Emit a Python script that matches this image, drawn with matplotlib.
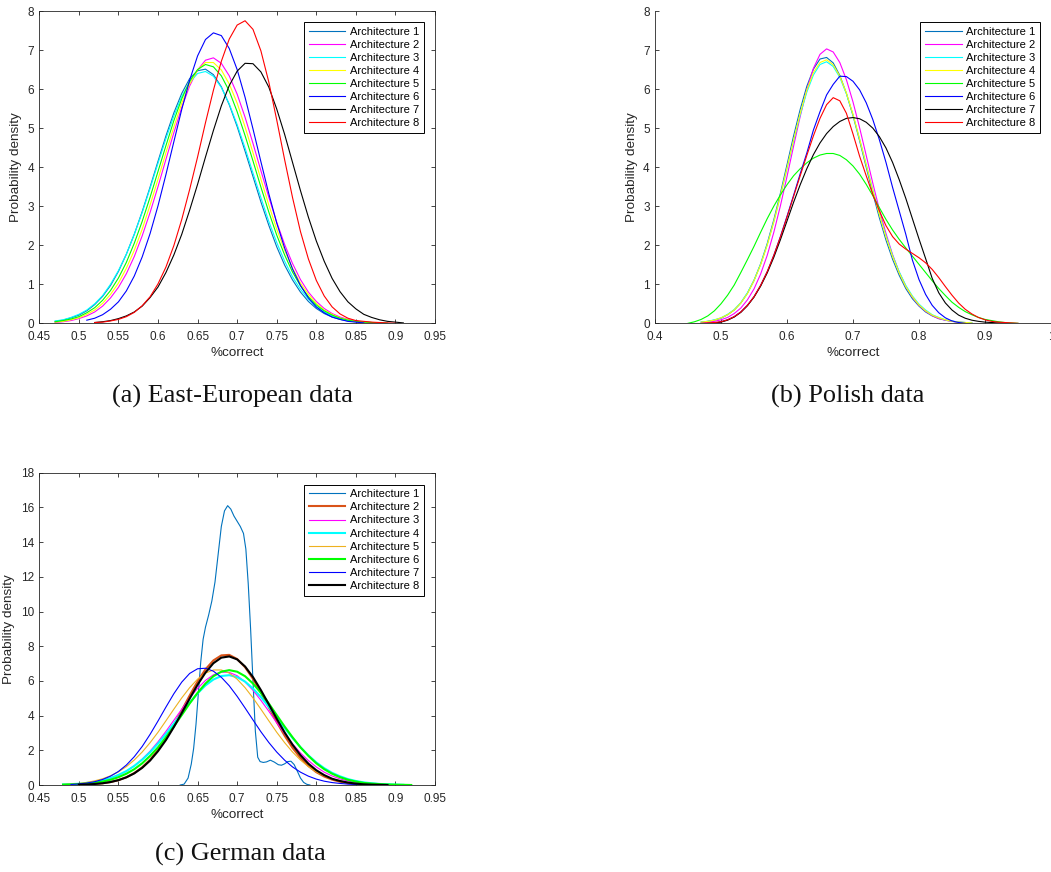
import matplotlib
matplotlib.use("Agg")
import matplotlib.pyplot as plt
from matplotlib.ticker import FuncFormatter, FixedLocator

plt.rcParams['font.family'] = ['Liberation Sans', 'DejaVu Sans']

NAMES = ["Architecture 1", "Architecture 2", "Architecture 3", "Architecture 4",
         "Architecture 5", "Architecture 6", "Architecture 7", "Architecture 8"]

# ---------------- Panel (a) East-European data ----------------
A_GRID = [0.47, 0.48, 0.49, 0.50, 0.51, 0.52, 0.53, 0.54, 0.55, 0.56, 0.57, 0.58,
          0.59, 0.60, 0.61, 0.62, 0.63, 0.64, 0.65, 0.66, 0.67, 0.68, 0.69, 0.70,
          0.71, 0.72, 0.73, 0.74, 0.75, 0.76, 0.77, 0.78, 0.79, 0.80, 0.81, 0.82,
          0.83, 0.84, 0.85, 0.86, 0.87, 0.88, 0.89, 0.90, 0.91]
A_START = [0.47, 0.47, 0.47, 0.47, 0.47, 0.51, 0.52, 0.52]
A1 = [0.05, 0.08, 0.14, 0.21, 0.32, 0.48, 0.69, 0.97, 1.33, 1.77, 2.28, 2.86, 3.49, 4.15,
      4.80, 5.39, 5.89, 6.27, 6.47, 6.51, 6.37, 6.06, 5.60, 5.04, 4.41, 3.76, 3.11, 2.51,
      1.96, 1.49, 1.11, 0.80, 0.56, 0.38, 0.25, 0.16, 0.10, 0.06, 0.04, 0.02, 0.01, 0.0]
A2 = [0.02, 0.04, 0.07, 0.12, 0.19, 0.29, 0.44, 0.65, 0.92, 1.27, 1.71, 2.24, 2.84, 3.50,
      4.20, 4.88, 5.53, 6.08, 6.49, 6.74, 6.80, 6.66, 6.34, 5.87, 5.28, 4.61, 3.91, 3.23,
      2.59, 2.02, 1.53, 1.12, 0.80, 0.56, 0.38, 0.25, 0.16, 0.10, 0.06, 0.03, 0.02, 0.01, 0.0]
A3 = [0.06, 0.09, 0.15, 0.23, 0.34, 0.50, 0.71, 1.00, 1.35, 1.77, 2.28, 2.84, 3.46, 4.10,
      4.73, 5.31, 5.81, 6.17, 6.40, 6.45, 6.33, 6.04, 5.62, 5.09, 4.49, 3.85, 3.22, 2.61,
      2.07, 1.59, 1.19, 0.87, 0.62, 0.43, 0.29, 0.19, 0.12, 0.07, 0.05, 0.03, 0.02, 0.01, 0.0]
A4 = [0.03, 0.05, 0.09, 0.14, 0.23, 0.34, 0.51, 0.74, 1.03, 1.41, 1.87, 2.41, 3.03, 3.69,
      4.37, 5.03, 5.64, 6.13, 6.49, 6.68, 6.68, 6.49, 6.13, 5.64, 5.03, 4.37, 3.69, 3.03,
      2.41, 1.87, 1.41, 1.03, 0.74, 0.51, 0.34, 0.23, 0.14, 0.09, 0.05, 0.03, 0.02, 0.01, 0.0]
A5 = [0.04, 0.07, 0.11, 0.17, 0.27, 0.40, 0.59, 0.84, 1.16, 1.56, 2.05, 2.61, 3.23, 3.89,
      4.55, 5.19, 5.75, 6.20, 6.50, 6.63, 6.57, 6.34, 5.95, 5.42, 4.81, 4.16, 3.49, 2.85,
      2.26, 1.75, 1.31, 0.96, 0.68, 0.47, 0.32, 0.21, 0.13, 0.08, 0.05, 0.03, 0.02, 0.01, 0.0]
A6 = [0.08, 0.13, 0.22, 0.36, 0.55, 0.83, 1.21, 1.70, 2.30, 3.01, 3.81, 4.65, 5.48, 6.23,
      6.85, 7.27, 7.44, 7.37, 7.04, 6.50, 5.79, 4.98, 4.14, 3.32, 2.57, 1.93, 1.39, 0.97,
      0.65, 0.42, 0.27, 0.16, 0.10, 0.05, 0.03, 0.01]
A7 = [0.02, 0.04, 0.07, 0.12, 0.19, 0.29, 0.44, 0.66, 0.93, 1.30, 1.75, 2.28, 2.90, 3.56,
      4.26, 4.94, 5.57, 6.09, 6.46, 6.66, 6.65, 6.44, 6.05, 5.49, 4.84, 4.12, 3.40, 2.72,
      2.11, 1.59, 1.15, 0.81, 0.55, 0.37, 0.23, 0.15, 0.09, 0.05, 0.03, 0.01]
A8 = [0.02, 0.03, 0.06, 0.10, 0.17, 0.28, 0.45, 0.68, 1.01, 1.44, 1.99, 2.66, 3.43, 4.26,
      5.14, 5.97, 6.71, 7.28, 7.64, 7.75, 7.53, 6.98, 6.18, 5.21, 4.19, 3.22, 2.35, 1.65,
      1.10, 0.70, 0.42, 0.24, 0.13, 0.07, 0.05, 0.03, 0.02, 0.01, 0.0]
A_SERIES = [A1, A2, A3, A4, A5, A6, A7, A8]

# ---------------- Panel (b) Polish data ----------------
B_GRID = [0.45, 0.46, 0.47, 0.48, 0.49, 0.50, 0.51, 0.52, 0.53, 0.54, 0.55, 0.56, 0.57,
          0.58, 0.59, 0.60, 0.61, 0.62, 0.63, 0.64, 0.65, 0.66, 0.67, 0.68, 0.69, 0.70,
          0.71, 0.72, 0.73, 0.74, 0.75, 0.76, 0.77, 0.78, 0.79, 0.80, 0.81, 0.82, 0.83,
          0.84, 0.85, 0.86, 0.87, 0.88, 0.89, 0.90, 0.91, 0.92, 0.93, 0.94, 0.95, 0.96]
B_START = [0.47, 0.47, 0.47, 0.47, 0.45, 0.49, 0.48, 0.47]
B1 = [0.03, 0.05, 0.08, 0.13, 0.22, 0.34, 0.52, 0.77, 1.10, 1.52, 2.04, 2.65, 3.33, 4.06,
      4.80, 5.48, 6.07, 6.51, 6.77, 6.81, 6.67, 6.35, 5.89, 5.32, 4.68, 4.00, 3.33, 2.70,
      2.13, 1.64, 1.23, 0.89, 0.63, 0.44, 0.29, 0.19, 0.12, 0.08, 0.05, 0.03, 0.02, 0.01]
B2 = [0.01, 0.03, 0.05, 0.09, 0.15, 0.25, 0.39, 0.60, 0.88, 1.26, 1.74, 2.33, 3.01, 3.76,
      4.54, 5.30, 5.98, 6.53, 6.89, 7.03, 6.95, 6.68, 6.24, 5.67, 5.01, 4.30, 3.59, 2.91,
      2.30, 1.76, 1.31, 0.95, 0.67, 0.46, 0.31, 0.20, 0.12, 0.08, 0.05, 0.03, 0.01, 0.0]
B3 = [0.03, 0.05, 0.09, 0.14, 0.23, 0.35, 0.53, 0.78, 1.10, 1.51, 2.01, 2.60, 3.26, 3.96,
      4.67, 5.34, 5.92, 6.36, 6.63, 6.70, 6.58, 6.30, 5.88, 5.34, 4.72, 4.07, 3.42, 2.80,
      2.24, 1.74, 1.32, 0.97, 0.70, 0.49, 0.34, 0.22, 0.15, 0.09, 0.06, 0.03, 0.02, 0.01]
B4 = [0.03, 0.05, 0.08, 0.14, 0.22, 0.34, 0.52, 0.76, 1.09, 1.50, 2.00, 2.60, 3.27, 3.98,
      4.70, 5.38, 5.97, 6.42, 6.68, 6.75, 6.62, 6.33, 5.90, 5.35, 4.72, 4.06, 3.40, 2.78,
      2.21, 1.71, 1.29, 0.94, 0.68, 0.47, 0.32, 0.21, 0.14, 0.09, 0.05, 0.03, 0.02, 0.01]
B5 = [0.0, 0.04, 0.10, 0.19, 0.32, 0.50, 0.72, 0.98, 1.30, 1.63, 1.97, 2.33, 2.68, 3.00,
      3.29, 3.55, 3.78, 3.96, 4.11, 4.23, 4.31, 4.35, 4.35, 4.30, 4.19, 4.03, 3.82, 3.56,
      3.27, 2.96, 2.66, 2.39, 2.15, 1.93, 1.72, 1.51, 1.30, 1.09, 0.89, 0.71, 0.54, 0.41,
      0.30, 0.22, 0.15, 0.10, 0.07, 0.04, 0.02, 0.01, 0.0]
B6 = [0.0, 0.04, 0.09, 0.17, 0.29, 0.46, 0.68, 0.97, 1.32, 1.74, 2.22, 2.74, 3.28, 3.83,
      4.36, 4.95, 5.42, 5.85, 6.12, 6.33, 6.32, 6.20, 5.98, 5.65, 5.22, 4.70, 4.12, 3.48,
      2.88, 2.28, 1.62, 1.12, 0.74, 0.46, 0.27, 0.14, 0.06, 0.02, 0.0]
B7 = [0.0, 0.01, 0.03, 0.08, 0.16, 0.28, 0.45, 0.67, 0.95, 1.29, 1.69, 2.14, 2.62, 3.10,
      3.55, 3.96, 4.32, 4.62, 4.86, 5.04, 5.17, 5.25, 5.27, 5.24, 5.15, 5.00, 4.78, 4.49,
      4.12, 3.68, 3.20, 2.68, 2.16, 1.66, 1.15, 0.78, 0.52, 0.34, 0.21, 0.13, 0.08, 0.05,
      0.03, 0.02, 0.01, 0.0]
B8 = [0.0, 0.01, 0.02, 0.04, 0.09, 0.17, 0.29, 0.46, 0.68, 0.97, 1.32, 1.74, 2.21, 2.72,
      3.25, 3.78, 4.30, 4.80, 5.25, 5.60, 5.78, 5.70, 5.38, 4.85, 4.28, 3.78, 3.30, 2.88,
      2.50, 2.22, 2.03, 1.90, 1.79, 1.68, 1.55, 1.38, 1.17, 0.94, 0.72, 0.52, 0.36, 0.24,
      0.15, 0.09, 0.05, 0.03, 0.02, 0.01, 0.0]
B_SERIES = [B1, B2, B3, B4, B5, B6, B7, B8]

# ---------------- Panel (c) German data ----------------
C_GRID = [0.47, 0.48, 0.49, 0.50, 0.51, 0.52, 0.53, 0.54, 0.55, 0.56, 0.57, 0.58, 0.59,
          0.60, 0.61, 0.62, 0.63, 0.64, 0.65, 0.66, 0.67, 0.68, 0.69, 0.70, 0.71, 0.72,
          0.73, 0.74, 0.75, 0.76, 0.77, 0.78, 0.79, 0.80, 0.81, 0.82, 0.83, 0.84, 0.85,
          0.86, 0.87, 0.88, 0.89, 0.90, 0.91, 0.92, 0.93]
C1_X = [0.628, 0.633, 0.638, 0.642, 0.645, 0.648, 0.651, 0.654, 0.657, 0.660, 0.664,
        0.668, 0.672, 0.676, 0.680, 0.684, 0.688, 0.692, 0.696, 0.700, 0.704, 0.708,
        0.711, 0.714, 0.717, 0.720, 0.723, 0.726, 0.729, 0.733, 0.737, 0.742, 0.747,
        0.752, 0.756, 0.760, 0.764, 0.768, 0.772, 0.776, 0.780, 0.784, 0.788, 0.792]
C1 = [0.0, 0.05, 0.4, 1.2, 2.1, 3.5, 5.3, 7.1, 8.4, 9.1, 9.8, 10.6, 11.7, 13.3, 14.9,
      15.8, 16.1, 15.9, 15.5, 15.2, 14.9, 14.5, 13.6, 11.6, 9.0, 6.0, 3.1, 1.6, 1.35,
      1.3, 1.33, 1.43, 1.32, 1.17, 1.14, 1.22, 1.35, 1.37, 1.18, 0.8, 0.4, 0.15, 0.04, 0.0]
C_START = [None, 0.50, 0.48, 0.48, 0.48, 0.48, 0.49, 0.50]
C2 = [0.02, 0.03, 0.06, 0.10, 0.17, 0.28, 0.45, 0.69, 1.02, 1.46, 2.02, 2.69, 3.46, 4.30,
      5.16, 5.97, 6.67, 7.18, 7.47, 7.50, 7.26, 6.79, 6.12, 5.33, 4.48, 3.63, 2.84, 2.14,
      1.56, 1.10, 0.74, 0.49, 0.31, 0.19, 0.11, 0.06, 0.04, 0.02, 0.01, 0.0]
C3 = [0.02, 0.04, 0.06, 0.11, 0.17, 0.26, 0.38, 0.56, 0.80, 1.10, 1.49, 1.95, 2.49, 3.09,
      3.73, 4.37, 5.01, 5.57, 6.03, 6.35, 6.51, 6.49, 6.30, 5.94, 5.46, 4.88, 4.25, 3.59,
      2.96, 2.37, 1.85, 1.41, 1.04, 0.74, 0.52, 0.35, 0.23, 0.15, 0.09, 0.06, 0.04, 0.02,
      0.01, 0.01, 0.0]
C4 = [0.03, 0.05, 0.07, 0.12, 0.18, 0.27, 0.40, 0.58, 0.80, 1.10, 1.46, 1.89, 2.39, 2.94,
      3.53, 4.14, 4.74, 5.28, 5.74, 6.08, 6.28, 6.33, 6.22, 5.96, 5.56, 5.07, 4.50, 3.90,
      3.29, 2.71, 2.18, 1.71, 1.30, 0.97, 0.70, 0.50, 0.34, 0.23, 0.15, 0.10, 0.06, 0.04,
      0.02, 0.01]
C5 = [0.03, 0.06, 0.09, 0.15, 0.24, 0.36, 0.53, 0.76, 1.06, 1.44, 1.90, 2.44, 3.04, 3.70,
      4.37, 5.02, 5.61, 6.10, 6.45, 6.63, 6.63, 6.45, 6.10, 5.61, 5.02, 4.37, 3.70, 3.04,
      2.44, 1.90, 1.44, 1.06, 0.76, 0.53, 0.36, 0.24, 0.15, 0.09, 0.06, 0.03, 0.02, 0.01]
C6 = [0.02, 0.03, 0.05, 0.08, 0.12, 0.20, 0.30, 0.45, 0.65, 0.91, 1.25, 1.68, 2.17, 2.75,
      3.37, 4.03, 4.70, 5.31, 5.85, 6.27, 6.53, 6.62, 6.53, 6.27, 5.85, 5.31, 4.70, 4.03,
      3.37, 2.75, 2.17, 1.68, 1.25, 0.91, 0.65, 0.45, 0.30, 0.20, 0.12, 0.08, 0.05, 0.03,
      0.02, 0.01, 0.0]
C7 = [0.03, 0.06, 0.11, 0.19, 0.32, 0.51, 0.78, 1.15, 1.63, 2.22, 2.92, 3.69, 4.49, 5.26,
      5.93, 6.43, 6.70, 6.73, 6.56, 6.21, 5.72, 5.11, 4.44, 3.75, 3.07, 2.45, 1.90, 1.43,
      1.04, 0.74, 0.51, 0.34, 0.22, 0.14, 0.09, 0.05, 0.03, 0.02, 0.01, 0.0]
C8 = [0.02, 0.03, 0.06, 0.10, 0.17, 0.28, 0.44, 0.67, 0.99, 1.41, 1.95, 2.59, 3.34, 4.15,
      4.98, 5.78, 6.48, 7.02, 7.34, 7.41, 7.24, 6.83, 6.22, 5.47, 4.65, 3.82, 3.03, 2.32,
      1.72, 1.23, 0.85, 0.57, 0.36, 0.23, 0.14, 0.08, 0.04, 0.02, 0.01, 0.0]
C_SERIES = [C1, C2, C3, C4, C5, C6, C7, C8]

# ---------------- Styles ----------------
AB_COLORS = ['#0072BD', '#FF00FF', '#00FFFF', '#FFFF00', '#00FF00', '#0000FF', '#000000', '#FF0000']
AB_WIDTHS = [0.8] * 8
C_COLORS = ['#0072BD', '#D95319', '#FF00FF', '#00FFFF', '#EDB120', '#00FF00', '#0000FF', '#000000']
C_WIDTHS = [0.8, 1.5, 0.8, 1.5, 0.8, 1.5, 0.8, 1.5]

AX_COLOR = '#262626'
W, H = 1051, 872


def frac_rect(left, top, right, bottom):
    return [left / W, 1 - bottom / H, (right - left) / W, (bottom - top) / H]


fig = plt.figure(figsize=(W / 100, H / 100), dpi=100)
fig.patch.set_facecolor('white')

fmt = FuncFormatter(lambda v, p: '%g' % round(v, 2))


def style_axes(ax, xlim, xticks, ylim, yticks, box=True):
    ax.set_xlim(*xlim)
    ax.set_ylim(*ylim)
    ax.xaxis.set_major_locator(FixedLocator(xticks))
    ax.yaxis.set_major_locator(FixedLocator(yticks))
    ax.xaxis.set_major_formatter(fmt)
    ax.yaxis.set_major_formatter(fmt)
    ax.tick_params(direction='in', length=3.0, width=0.6, colors=AX_COLOR,
                   labelsize=8.5, top=box, right=box)
    ax.tick_params(axis='x', pad=5.5)
    ax.tick_params(axis='y', pad=3.8)
    for side, sp in ax.spines.items():
        sp.set_linewidth(0.6)
        sp.set_color(AX_COLOR)
    if not box:
        ax.spines['top'].set_visible(False)
        ax.spines['right'].set_visible(False)
    ax.set_xlabel('%correct', fontsize=9.7, color=AX_COLOR, labelpad=3)
    ax.set_ylabel('Probability density', fontsize=9.7, color=AX_COLOR, labelpad=4)


def add_legend(ax, anchor):
    leg = ax.legend(loc='upper left', bbox_to_anchor=anchor, borderaxespad=0,
                    fontsize=8.0, handlelength=3.3, handletextpad=0.4,
                    labelspacing=0.28, borderpad=0.42, frameon=True, fancybox=False,
                    edgecolor='#000000', framealpha=1)
    leg.get_frame().set_linewidth(0.7)
    return leg


# Panel (a)
ax_a = fig.add_axes(frac_rect(39.3, 11, 435, 323.3))
for name, start, ys, col, lw in zip(NAMES, A_START, A_SERIES, AB_COLORS, AB_WIDTHS):
    i0 = A_GRID.index(start)
    ax_a.plot(A_GRID[i0:i0 + len(ys)], ys, color=col, lw=lw, label=name)
style_axes(ax_a, (0.45, 0.95), [0.45, 0.5, 0.55, 0.6, 0.65, 0.7, 0.75, 0.8, 0.85, 0.9, 0.95],
           (0, 8), list(range(0, 9)))
add_legend(ax_a, (0.669, 0.965))

# Panel (b)
ax_b = fig.add_axes(frac_rect(655, 11, 1051, 323.3))
for name, start, ys, col, lw in zip(NAMES, B_START, B_SERIES, AB_COLORS, AB_WIDTHS):
    i0 = B_GRID.index(start)
    ax_b.plot(B_GRID[i0:i0 + len(ys)], ys, color=col, lw=lw, label=name)
style_axes(ax_b, (0.4, 1.0), [0.4, 0.5, 0.6, 0.7, 0.8, 0.9, 1.0],
           (0, 8), list(range(0, 9)), box=False)
add_legend(ax_b, (0.670, 0.965))

# Panel (c)
ax_c = fig.add_axes(frac_rect(39.3, 472.7, 435, 785))
for name, start, ys, col, lw in zip(NAMES, C_START, C_SERIES, C_COLORS, C_WIDTHS):
    if start is None:
        xs = C1_X
    else:
        i0 = C_GRID.index(start)
        xs = C_GRID[i0:i0 + len(ys)]
    ax_c.plot(xs, ys, color=col, lw=lw, label=name)
style_axes(ax_c, (0.45, 0.95), [0.45, 0.5, 0.55, 0.6, 0.65, 0.7, 0.75, 0.8, 0.85, 0.9, 0.95],
           (0, 18), list(range(0, 19, 2)))
add_legend(ax_c, (0.669, 0.962))

# Captions
cap_kw = dict(fontsize=18.9, family=['Liberation Serif', 'DejaVu Serif'], ha='center',
              va='center', color='#111111')
fig.text(232 / W, 1 - 396 / H, '(a) East-European data', **cap_kw)
fig.text(848 / W, 1 - 396 / H, '(b) Polish data', **cap_kw)
fig.text(240 / W, 1 - 854 / H, '(c) German data', **cap_kw)

fig.savefig('out.png', dpi=100, facecolor='white')
